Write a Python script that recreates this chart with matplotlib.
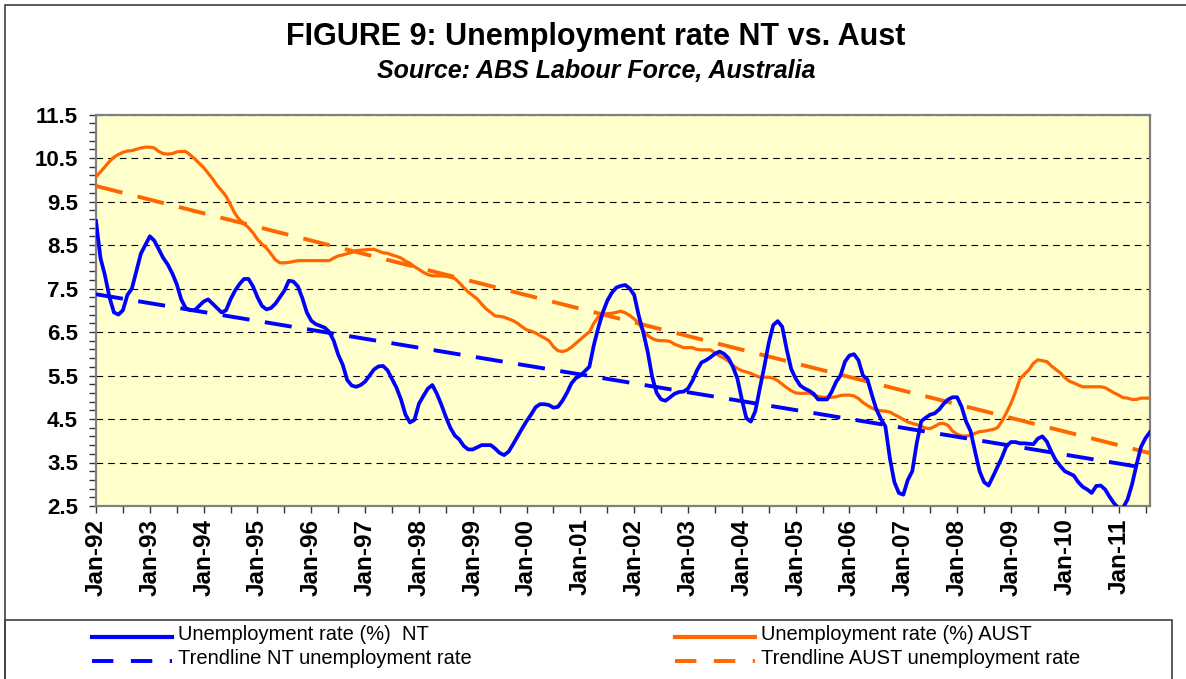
import numpy as np
import matplotlib
matplotlib.use("Agg")
import matplotlib.pyplot as plt
from matplotlib.lines import Line2D
from matplotlib.patches import Rectangle

# monthly unemployment rate (%), Jan-92 .. Aug-11
nt_rate = [
    9.05, 8.2, 7.8, 7.3, 6.95, 6.9, 7.0, 7.35, 7.5, 7.9, 8.3, 8.5,  # 1992
    8.7, 8.6, 8.4, 8.2, 8.05, 7.85, 7.6, 7.25, 7.05, 7.0, 7.0, 7.1,  # 1993
    7.2, 7.25, 7.15, 7.05, 6.95, 7.0, 7.25, 7.45, 7.6, 7.72, 7.72, 7.55,  # 1994
    7.3, 7.1, 7.02, 7.05, 7.15, 7.3, 7.45, 7.68, 7.66, 7.55, 7.28, 6.95,  # 1995
    6.76, 6.68, 6.64, 6.6, 6.5, 6.3, 5.98, 5.75, 5.4, 5.27, 5.24, 5.28,  # 1996
    5.36, 5.5, 5.64, 5.71, 5.72, 5.62, 5.42, 5.22, 4.95, 4.6, 4.42, 4.48,  # 1997
    4.85, 5.03, 5.2, 5.28, 5.08, 4.83, 4.55, 4.3, 4.12, 4.03, 3.88, 3.8,  # 1998
    3.8, 3.85, 3.9, 3.9, 3.9, 3.82, 3.72, 3.67, 3.75, 3.92, 4.1, 4.28,  # 1999
    4.45, 4.6, 4.77, 4.84, 4.84, 4.82, 4.76, 4.78, 4.92, 5.1, 5.32, 5.44,  # 2000
    5.5, 5.6, 5.7, 6.2, 6.6, 6.95, 7.22, 7.4, 7.52, 7.56, 7.58, 7.5,  # 2001
    7.35, 6.88, 6.5, 6.05, 5.47, 5.1, 4.95, 4.92, 5.0, 5.08, 5.12, 5.13,  # 2002
    5.2, 5.38, 5.62, 5.8, 5.85, 5.92, 6.0, 6.05, 6.0, 5.9, 5.7, 5.43,  # 2003
    4.95, 4.52, 4.44, 4.68, 5.2, 5.7, 6.25, 6.66, 6.75, 6.62, 6.1, 5.65,  # 2004
    5.43, 5.27, 5.2, 5.15, 5.08, 4.95, 4.95, 4.95, 5.12, 5.35, 5.5, 5.82,  # 2005
    5.96, 5.99, 5.85, 5.5, 5.41, 5.05, 4.72, 4.5, 4.33, 3.6, 3.05, 2.8,  # 2006
    2.76, 3.1, 3.3, 3.95, 4.45, 4.53, 4.6, 4.63, 4.72, 4.85, 4.95, 5.0,  # 2007
    5.0, 4.78, 4.44, 4.22, 3.75, 3.3, 3.05, 2.97, 3.18, 3.4, 3.62, 3.88,  # 2008
    3.97, 3.97, 3.94, 3.94, 3.93, 3.92, 4.05, 4.1, 3.98, 3.75, 3.55, 3.42,  # 2009
    3.3, 3.25, 3.2, 3.05, 2.94, 2.88, 2.8, 2.96, 2.97, 2.88, 2.71, 2.56,  # 2010
    2.45, 2.46, 2.65, 3.0, 3.45, 3.86, 4.06, 4.2,  # 2011
]

aust_rate = [
    10.07, 10.18, 10.3, 10.42, 10.52, 10.58, 10.63, 10.66, 10.67, 10.7, 10.73, 10.75,  # 1992
    10.75, 10.73, 10.65, 10.6, 10.59, 10.6, 10.64, 10.65, 10.65, 10.57, 10.48, 10.38,  # 1993
    10.28, 10.15, 10.02, 9.87, 9.75, 9.62, 9.42, 9.22, 9.08, 8.99, 8.9, 8.78,  # 1994
    8.63, 8.52, 8.43, 8.3, 8.16, 8.09, 8.09, 8.1, 8.12, 8.14, 8.14, 8.14,  # 1995
    8.14, 8.14, 8.14, 8.14, 8.14, 8.2, 8.25, 8.27, 8.3, 8.33, 8.37, 8.38,  # 1996
    8.39, 8.4, 8.4, 8.36, 8.32, 8.31, 8.27, 8.24, 8.2, 8.13, 8.08, 8.0,  # 1997
    7.94, 7.87, 7.82, 7.79, 7.79, 7.79, 7.78, 7.76, 7.73, 7.63, 7.52, 7.42,  # 1998
    7.34, 7.26, 7.14, 7.03, 6.95, 6.87, 6.86, 6.84, 6.8, 6.76, 6.7, 6.62,  # 1999
    6.55, 6.52, 6.48, 6.42, 6.36, 6.3, 6.16, 6.07, 6.05, 6.08, 6.15, 6.24,  # 2000
    6.33, 6.42, 6.5, 6.7, 6.85, 6.92, 6.92, 6.93, 6.95, 6.98, 6.94, 6.88,  # 2001
    6.8, 6.7, 6.53, 6.42, 6.35, 6.31, 6.3, 6.3, 6.28, 6.22, 6.18, 6.14,  # 2002
    6.14, 6.14, 6.1, 6.09, 6.09, 6.09, 6.02, 5.95, 5.9, 5.83, 5.73, 5.66,  # 2003
    5.61, 5.58, 5.55, 5.5, 5.46, 5.46, 5.46, 5.44, 5.38, 5.3, 5.22, 5.15,  # 2004
    5.1, 5.09, 5.09, 5.1, 5.05, 5.02, 5.0, 5.0, 5.0, 5.01, 5.04, 5.05,  # 2005
    5.05, 5.03, 4.97, 4.88, 4.81, 4.75, 4.71, 4.69, 4.68, 4.66, 4.6, 4.55,  # 2006
    4.49, 4.43, 4.4, 4.37, 4.33, 4.29, 4.28, 4.33, 4.39, 4.4, 4.35, 4.22,  # 2007
    4.15, 4.11, 4.11, 4.12, 4.17, 4.21, 4.22, 4.24, 4.26, 4.3, 4.45, 4.65,  # 2008
    4.86, 5.12, 5.42, 5.53, 5.63, 5.78, 5.86, 5.84, 5.82, 5.72, 5.64, 5.56,  # 2009
    5.45, 5.37, 5.33, 5.28, 5.24, 5.24, 5.24, 5.24, 5.24, 5.22, 5.16, 5.1,  # 2010
    5.05, 4.99, 4.98, 4.95, 4.95, 4.98, 4.98, 4.98,  # 2011
]

year_labels = ["Jan-92", "Jan-93", "Jan-94", "Jan-95", "Jan-96", "Jan-97", "Jan-98",
               "Jan-99", "Jan-00", "Jan-01", "Jan-02", "Jan-03", "Jan-04", "Jan-05",
               "Jan-06", "Jan-07", "Jan-08", "Jan-09", "Jan-10", "Jan-11"]

legend_labels = ["Unemployment rate (%)  NT", "Unemployment rate (%) AUST",
                 "Trendline NT unemployment rate", "Trendline AUST unemployment rate"]

BLUE = "#0000FF"
ORANGE = "#FF6600"
W, H = 1186, 679

plt.rcParams["font.family"] = ["Liberation Sans", "DejaVu Sans"]

fig = plt.figure(figsize=(W / 100, H / 100), dpi=100)

# pixel coords -> figure fraction
def fx(px):
    return px / W

def fy(py):
    return 1 - py / H

# outer chart border and legend box
fig.add_artist(Rectangle((fx(5), fy(700)), fx(1200) - fx(5), fy(5) - fy(700),
                         transform=fig.transFigure, fill=False, ec="#404040", lw=1.2))
fig.add_artist(Rectangle((fx(5), fy(700)), fx(1172) - fx(5), fy(620) - fy(700),
                         transform=fig.transFigure, fill=False, ec="#404040", lw=1.2))

ax = fig.add_axes([fx(96), fy(506), fx(1150) - fx(96), fy(114.5) - fy(506)])
ax.set_facecolor("#FFFFCC")

months = np.arange(len(nt_rate))
ax.plot(months, aust_rate, color=ORANGE, lw=2.3, zorder=3)
ax.plot(months, nt_rate, color=BLUE, lw=2.7, zorder=4)

# linear trendlines like Excel's
nt_fit = np.polyfit(months, nt_rate, 1)
au_fit = np.polyfit(months, aust_rate, 1)
ax.plot(months, np.polyval(nt_fit, months), color=BLUE, lw=2.8, dashes=(7, 4), zorder=4)
ax.plot(months, np.polyval(au_fit, months), color=ORANGE, lw=2.8, dashes=(7, 4), zorder=3)

ax.set_xlim(0, len(nt_rate) - 1)
ax.set_ylim(2.5, 11.5)
ax.set_yticks(np.arange(2.5, 11.6, 1.0))
ax.set_yticks(np.arange(2.5, 11.6, 0.2), minor=True)
ax.set_xticks(np.arange(0, len(nt_rate), 12))
ax.set_xticks(np.arange(6, len(nt_rate), 12), minor=True)
ax.set_xticklabels(year_labels, rotation=90, fontsize=17.5, fontweight="bold", va="top")
ax.set_yticklabels([f"{v:.1f}" for v in np.arange(2.5, 11.6, 1.0)], fontsize=16, fontweight="bold")

ax.yaxis.grid(True, color="black", lw=0.8, dashes=(6, 4.5))
ax.set_axisbelow(True)
ax.tick_params(axis="both", which="both", direction="out", length=5, width=1, color="#333333")
ax.tick_params(axis="y", pad=8)
ax.tick_params(axis="x", pad=4)
for s in ax.spines.values():
    s.set_color("#808080")
    s.set_linewidth(1.6)

fig.text(fx(596), fy(45), "FIGURE 9: Unemployment rate NT vs. Aust", ha="center",
         va="baseline", fontsize=22, fontweight="bold")
fig.text(fx(596), fy(78), "Source: ABS Labour Force, Australia", ha="center",
         va="baseline", fontsize=18, fontweight="bold", style="italic")

# legend, laid out like the Excel one
keys = [(92, 637, BLUE, None), (675, 637, ORANGE, None),
        (92, 661, BLUE, (7, 4)), (675, 661, ORANGE, (7, 4))]
for (x0, y0, c, d), lab in zip(keys, legend_labels):
    ln = Line2D([fx(x0), fx(x0 + 80)], [fy(y0), fy(y0)], transform=fig.transFigure,
                color=c, lw=2.8 if d else 3)
    if d:
        ln.set_dashes((5.5, 4.5))
    fig.add_artist(ln)
    fig.text(fx(x0 + 86), fy(y0 - 2), lab, ha="left", va="center", fontsize=14.5)

fig.savefig("out.png", dpi=100)
